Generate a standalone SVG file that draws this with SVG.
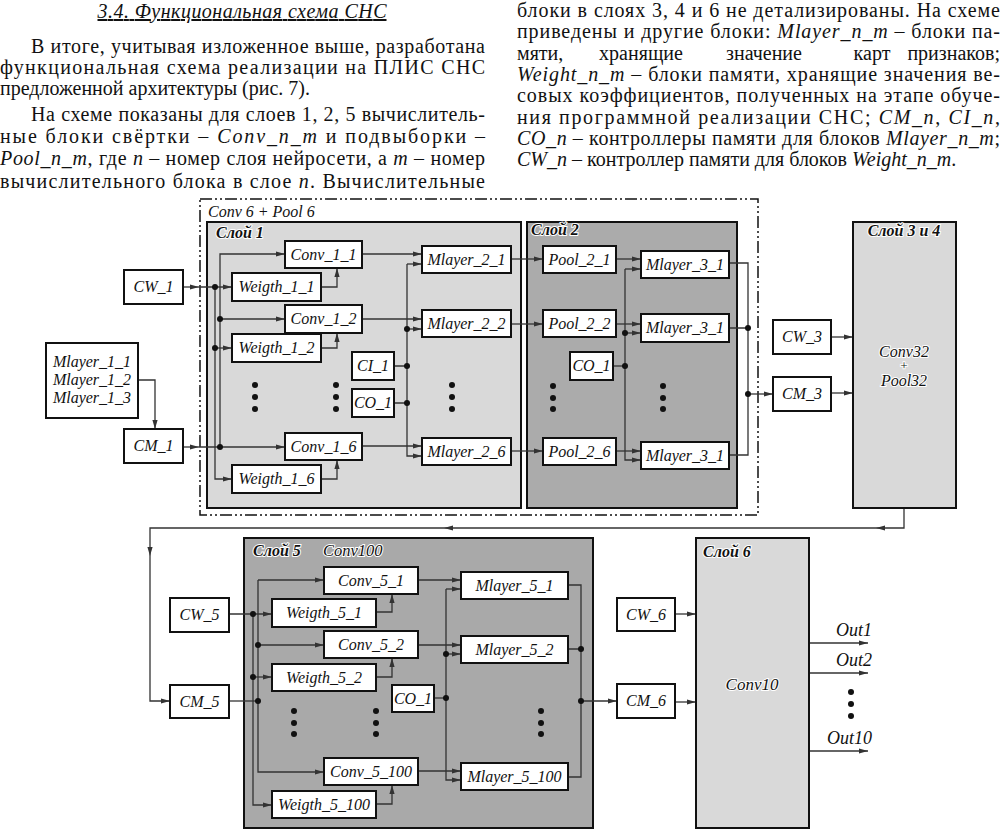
<svg xmlns="http://www.w3.org/2000/svg" width="1004" height="830" viewBox="0 0 1004 830">
<defs>
<marker id="ah" markerUnits="userSpaceOnUse" markerWidth="10" markerHeight="6" refX="9" refY="3" orient="auto">
<path d="M0,0.4 L9,3 L0,5.6 z" fill="#333"/>
</marker>
<style>
.pt{font-family:"Liberation Serif","Times New Roman",serif;font-size:20px;fill:#111}
.i{font-style:italic}
.box{fill:#fff;stroke:#111;stroke-width:2}
.lbl{font-family:"Liberation Serif","Times New Roman",serif;font-size:16px;font-style:italic;fill:#111;text-anchor:middle}
.hd{font-family:"Liberation Serif","Times New Roman",serif;font-size:16px;font-style:italic;font-weight:bold;fill:#111;stroke:#fff;stroke-width:2;paint-order:stroke}
.halo{stroke:#fff;stroke-width:2;paint-order:stroke}
.c{fill:none;stroke:#333;stroke-width:1.3}
.a{marker-end:url(#ah)}
.dot{fill:#111}
</style>
</defs>
<rect width="1004" height="830" fill="#fff"/>

<g id="page-text">
<text class="pt i" x="242" y="18" text-anchor="middle" text-decoration="underline" textLength="289" lengthAdjust="spacing">3.4. Функциональная схема СНС</text>
<text class="pt" x="31" y="53" textLength="454" lengthAdjust="spacing">В итоге, учитывая изложенное выше, разработана</text>
<text class="pt" x="0" y="74" textLength="485" lengthAdjust="spacing">функциональная схема реализации на ПЛИС СНС</text>
<text class="pt" x="0" y="95">предложенной архитектуры (рис. 7).</text>
<text class="pt" x="31" y="121" textLength="454" lengthAdjust="spacing">На схеме показаны для слоев 1, 2, 5 вычислитель-</text>
<text class="pt" x="0" y="143" textLength="485" lengthAdjust="spacing">ные блоки свёртки – <tspan class="i">Conv_n_m</tspan> и подвыборки –</text>
<text class="pt" x="0" y="165" textLength="485" lengthAdjust="spacing"><tspan class="i">Pool_n_m</tspan>, где <tspan class="i">n</tspan> – номер слоя нейросети, а <tspan class="i">m</tspan> – номер</text>
<text class="pt" x="0" y="188" textLength="485" lengthAdjust="spacing">вычислительного блока в слое <tspan class="i">n</tspan>. Вычислительные</text>

<text class="pt" x="517" y="17" textLength="483" lengthAdjust="spacing">блоки в слоях 3, 4 и 6 не детализированы. На схеме</text>
<text class="pt" x="517" y="38" textLength="483" lengthAdjust="spacing">приведены и другие блоки: <tspan class="i">Mlayer_n_m</tspan> – блоки па-</text>
<text class="pt" x="517" y="60">мяти,</text>
<text class="pt" x="641" y="60" text-anchor="middle">хранящие</text>
<text class="pt" x="764" y="60" text-anchor="middle">значение</text>
<text class="pt" x="872" y="60" text-anchor="middle">карт</text>
<text class="pt" x="1000" y="60" text-anchor="end">признаков;</text>
<text class="pt" x="517" y="81" textLength="483" lengthAdjust="spacing"><tspan class="i">Weight_n_m</tspan> – блоки памяти, хранящие значения ве-</text>
<text class="pt" x="517" y="102" textLength="483" lengthAdjust="spacing">совых коэффициентов, полученных на этапе обуче-</text>
<text class="pt" x="517" y="124" textLength="483" lengthAdjust="spacing">ния программной реализации СНС; <tspan class="i">CM_n</tspan>, <tspan class="i">CI_n</tspan>,</text>
<text class="pt" x="517" y="145" textLength="483" lengthAdjust="spacing"><tspan class="i">CO_n</tspan> – контроллеры памяти для блоков <tspan class="i">Mlayer_n_m</tspan>;</text>
<text class="pt" x="517" y="166"><tspan class="i">CW_n</tspan> – контроллер памяти для блоков <tspan class="i">Weight_n_m</tspan>.</text>
</g>

<g id="containers">
<rect x="200" y="199" width="558" height="316" fill="none" stroke="#111" stroke-width="1.5" stroke-dasharray="12 3 2 3 2 3"/>
<text class="lbl" x="208" y="217" style="text-anchor:start">Conv 6 + Pool 6</text>
<rect id="layer1" x="207" y="222" width="314" height="286" fill="#d9d9d9" stroke="#111" stroke-width="2"/>
<text class="hd" x="216" y="238">Слой 1</text>
<rect id="layer2" x="527" y="222" width="210" height="286" fill="#ababab" stroke="#111" stroke-width="2"/>
<text class="hd" x="531" y="235">Слой 2</text>
<rect id="layer5" x="244" y="538" width="349" height="290" fill="#a9a9a9" stroke="#111" stroke-width="2"/>
<text class="hd" x="253" y="556">Слой 5</text>
<text class="lbl halo" x="323" y="556" style="text-anchor:start;font-size:16.5px">Conv100</text>
</g>

<g id="connectors">
<path class="c a" d="M138 380 H155 V429"/>
<path class="c a" d="M183 287 H199"/>
<path class="c a" d="M199 287 H232"/>
<path class="c a" d="M215 287 V479 H232"/>
<path class="c a" d="M215 348 H232"/>
<path class="c a" d="M183 447 H199"/>
<path class="c a" d="M199 447 H285"/>
<path class="c a" d="M220 447 V254 H285"/>
<path class="c a" d="M220 319 H285"/>
<path class="c a" d="M321 287 H337 V268"/>
<path class="c a" d="M321 348 H337 V333"/>
<path class="c a" d="M321 479 H337 V460"/>
<path class="c a" d="M362 254 H422"/>
<path class="c a" d="M362 319 H422"/>
<path class="c a" d="M362 446 H422"/>
<path class="c a" d="M407 264 H422"/>
<path class="c a" d="M407 264 V456 H422"/>
<path class="c a" d="M407 329 H422"/>
<path class="c" d="M394 366 H407 M394 403 H407"/>
<path class="c a" d="M511 259 H543"/>
<path class="c a" d="M511 324 H543"/>
<path class="c a" d="M511 451 H543"/>
<path class="c a" d="M616 259 H641"/>
<path class="c a" d="M616 324 H641"/>
<path class="c a" d="M616 451 H641"/>
<path class="c a" d="M625 269 H641"/>
<path class="c a" d="M625 269 V460 H641"/>
<path class="c a" d="M625 333 H641"/>
<path class="c" d="M613 366 H625"/>
<path class="c" d="M729 263 H748 V455 H729 M729 328 H748"/>
<path class="c a" d="M748 394 H773"/>
<path class="c a" d="M831 337 H853"/>
<path class="c a" d="M831 393 H853"/>
<path class="c a" d="M904 508 V528 H876"/>
<path class="c a" d="M876 528 H444"/>
<path class="c a" d="M444 528 H150 V556"/>
<path class="c a" d="M150 556 V701 H170"/>
<path class="c a" d="M229 614 H272"/>
<path class="c a" d="M253 614 V805 H272"/>
<path class="c a" d="M253 677 H272"/>
<path class="c" d="M229 701 H258"/>
<path class="c a" d="M258 580 H324"/>
<path class="c a" d="M258 580 V772 H324"/>
<path class="c a" d="M258 645 H324"/>
<path class="c a" d="M376 612 H392 V594"/>
<path class="c a" d="M376 677 H392 V658"/>
<path class="c a" d="M376 804 H392 V785"/>
<path class="c a" d="M418 580 H461"/>
<path class="c a" d="M418 645 H461"/>
<path class="c a" d="M418 771 H461"/>
<path class="c a" d="M446 589 H461"/>
<path class="c a" d="M446 589 V780 H461"/>
<path class="c a" d="M446 654 H461"/>
<path class="c" d="M434 698 H446"/>
<path class="c" d="M568 585 H581 V777 H568 M568 649 H581"/>
<path class="c a" d="M581 701 H617"/>
<path class="c a" d="M675 614 H696"/>
<path class="c a" d="M675 702 H696"/>
<path class="c a" d="M809 643 H868"/>
<path class="c a" d="M809 673 H868"/>
<path class="c a" d="M809 751 H868"/>
<g class="dot">
<circle cx="215" cy="287" r="3"/><circle cx="215" cy="348" r="3"/><circle cx="220" cy="447" r="3"/><circle cx="220" cy="319" r="3"/>
<circle cx="407" cy="329" r="3"/><circle cx="407" cy="366" r="3"/><circle cx="407" cy="403" r="3"/>
<circle cx="625" cy="333" r="3"/><circle cx="625" cy="366" r="3"/>
<circle cx="748" cy="328" r="3"/><circle cx="748" cy="394" r="3"/>
<circle cx="253" cy="614" r="3"/><circle cx="253" cy="677" r="3"/><circle cx="258" cy="701" r="3"/><circle cx="258" cy="645" r="3"/>
<circle cx="446" cy="654" r="3"/><circle cx="446" cy="698" r="3"/>
<circle cx="581" cy="649" r="3"/><circle cx="581" cy="701" r="3"/>
</g>
<g class="dot">
<circle cx="255" cy="385" r="3"/><circle cx="255" cy="397" r="3"/><circle cx="255" cy="409" r="3"/>
<circle cx="336" cy="385" r="3"/><circle cx="336" cy="397" r="3"/><circle cx="336" cy="409" r="3"/>
<circle cx="452" cy="385" r="3"/><circle cx="452" cy="397" r="3"/><circle cx="452" cy="409" r="3"/>
<circle cx="553" cy="386" r="3"/><circle cx="553" cy="398" r="3"/><circle cx="553" cy="409" r="3"/>
<circle cx="663" cy="386" r="3"/><circle cx="663" cy="398" r="3"/><circle cx="663" cy="409" r="3"/>
<circle cx="294" cy="711" r="3"/><circle cx="294" cy="723" r="3"/><circle cx="294" cy="734" r="3"/>
<circle cx="376" cy="711" r="3"/><circle cx="376" cy="723" r="3"/><circle cx="376" cy="734" r="3"/>
<circle cx="541" cy="711" r="3"/><circle cx="541" cy="723" r="3"/><circle cx="541" cy="734" r="3"/>
<circle cx="851" cy="692" r="3"/><circle cx="851" cy="704" r="3"/><circle cx="851" cy="716" r="3"/>
</g>
</g>

<g id="n-mlayer1"><rect class="box" x="46" y="343" width="92" height="75"/><text class="lbl" x="92" y="367">Mlayer_1_1</text><text class="lbl" x="92" y="385">Mlayer_1_2</text><text class="lbl" x="92" y="403">Mlayer_1_3</text></g>
<g id="n-cw1"><rect class="box" x="124" y="270" width="59" height="34"/><text class="lbl" x="153.5" y="292">CW_1</text></g>
<g id="n-cm1"><rect class="box" x="124" y="429" width="59" height="34"/><text class="lbl" x="153.5" y="451">CM_1</text></g>
<g id="n-conv11"><rect class="box" x="285" y="241" width="77" height="27"/><text class="lbl" x="323.5" y="260">Conv_1_1</text></g>
<g id="n-w11"><rect class="box" x="232" y="273" width="89" height="28"/><text class="lbl" x="276.5" y="292">Weigth_1_1</text></g>
<g id="n-conv12"><rect class="box" x="285" y="305" width="77" height="28"/><text class="lbl" x="323.5" y="324">Conv_1_2</text></g>
<g id="n-w12"><rect class="box" x="232" y="334" width="89" height="28"/><text class="lbl" x="276.5" y="353">Weigth_1_2</text></g>
<g id="n-conv16"><rect class="box" x="285" y="433" width="77" height="27"/><text class="lbl" x="323.5" y="452">Conv_1_6</text></g>
<g id="n-w16"><rect class="box" x="232" y="465" width="89" height="28"/><text class="lbl" x="276.5" y="484">Weigth_1_6</text></g>
<g id="n-ci1"><rect class="box" x="352" y="352" width="42" height="28"/><text class="lbl" x="373" y="371">CI_1</text></g>
<g id="n-co1a"><rect class="box" x="352" y="389" width="42" height="28"/><text class="lbl" x="373" y="408">CO_1</text></g>
<g id="n-ml21"><rect class="box" x="422" y="246" width="89" height="27"/><text class="lbl" x="466.5" y="265">Mlayer_2_1</text></g>
<g id="n-ml22"><rect class="box" x="422" y="310" width="89" height="27"/><text class="lbl" x="466.5" y="329">Mlayer_2_2</text></g>
<g id="n-ml26"><rect class="box" x="422" y="438" width="89" height="27"/><text class="lbl" x="466.5" y="457">Mlayer_2_6</text></g>
<g id="n-p21"><rect class="box" x="543" y="246" width="73" height="27"/><text class="lbl" x="579.5" y="265">Pool_2_1</text></g>
<g id="n-p22"><rect class="box" x="543" y="310" width="73" height="27"/><text class="lbl" x="579.5" y="329">Pool_2_2</text></g>
<g id="n-p26"><rect class="box" x="543" y="438" width="73" height="27"/><text class="lbl" x="579.5" y="457">Pool_2_6</text></g>
<g id="n-co1b"><rect class="box" x="570" y="352" width="43" height="28"/><text class="lbl" x="591.5" y="371">CO_1</text></g>
<g id="n-ml31a"><rect class="box" x="641" y="251" width="88" height="27"/><text class="lbl" x="685" y="270">Mlayer_3_1</text></g>
<g id="n-ml31b"><rect class="box" x="641" y="314" width="88" height="28"/><text class="lbl" x="685" y="333">Mlayer_3_1</text></g>
<g id="n-ml31c"><rect class="box" x="641" y="442" width="88" height="27"/><text class="lbl" x="685" y="461">Mlayer_3_1</text></g>
<g id="n-cw3"><rect class="box" x="773" y="320" width="58" height="34"/><text class="lbl" x="802" y="342">CW_3</text></g>
<g id="n-cm3"><rect class="box" x="773" y="377" width="58" height="34"/><text class="lbl" x="802" y="399">CM_3</text></g>
<g id="n-layer34"><rect x="853" y="222" width="103" height="286" fill="#d9d9d9" stroke="#111" stroke-width="2"/><text class="hd" x="904" y="236" text-anchor="middle">Слой 3 и 4</text><text class="lbl halo" x="904" y="357">Conv32</text><text class="lbl halo" x="904" y="370" style="font-size:13px">+</text><text class="lbl halo" x="904" y="386">Pool32</text></g>

<g id="n-cw5"><rect class="box" x="170" y="598" width="59" height="34"/><text class="lbl" x="199.5" y="620">CW_5</text></g>
<g id="n-cm5"><rect class="box" x="170" y="685" width="59" height="33"/><text class="lbl" x="199.5" y="707">CM_5</text></g>
<g id="n-conv51"><rect class="box" x="324" y="567" width="94" height="27"/><text class="lbl" x="371" y="586">Conv_5_1</text></g>
<g id="n-w51"><rect class="box" x="272" y="599" width="104" height="28"/><text class="lbl" x="324" y="618">Weigth_5_1</text></g>
<g id="n-conv52"><rect class="box" x="324" y="631" width="94" height="27"/><text class="lbl" x="371" y="650">Conv_5_2</text></g>
<g id="n-w52"><rect class="box" x="272" y="664" width="104" height="27"/><text class="lbl" x="324" y="683">Weigth_5_2</text></g>
<g id="n-co15"><rect class="box" x="392" y="685" width="42" height="27"/><text class="lbl" x="413" y="704">CO_1</text></g>
<g id="n-conv5100"><rect class="box" x="324" y="758" width="94" height="27"/><text class="lbl" x="371" y="777">Conv_5_100</text></g>
<g id="n-w5100"><rect class="box" x="272" y="791" width="104" height="27"/><text class="lbl" x="324" y="810">Weigth_5_100</text></g>
<g id="n-ml51"><rect class="box" x="461" y="572" width="107" height="27"/><text class="lbl" x="514.5" y="591">Mlayer_5_1</text></g>
<g id="n-ml52"><rect class="box" x="461" y="636" width="107" height="27"/><text class="lbl" x="514.5" y="655">Mlayer_5_2</text></g>
<g id="n-ml5100"><rect class="box" x="461" y="763" width="107" height="27"/><text class="lbl" x="514.5" y="782">Mlayer_5_100</text></g>
<g id="n-cw6"><rect class="box" x="617" y="598" width="58" height="33"/><text class="lbl" x="646" y="620">CW_6</text></g>
<g id="n-cm6"><rect class="box" x="617" y="684" width="58" height="34"/><text class="lbl" x="646" y="706">CM_6</text></g>
<g id="n-layer6"><rect x="696" y="538" width="113" height="290" fill="#d9d9d9" stroke="#111" stroke-width="2"/><text class="hd" x="703" y="557">Слой 6</text><text class="lbl halo" x="752" y="690" style="font-size:17px">Conv10</text></g>
<g id="outputs"><text class="lbl" x="872" y="636" style="text-anchor:end;font-size:18px">Out1</text><text class="lbl" x="872" y="666" style="text-anchor:end;font-size:18px">Out2</text><text class="lbl" x="872" y="744" style="text-anchor:end;font-size:18px">Out10</text></g>
</svg>
